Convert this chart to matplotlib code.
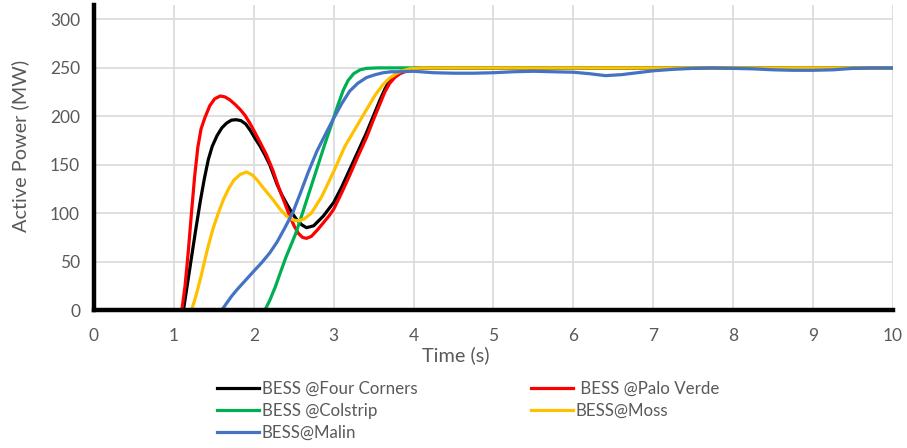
import matplotlib
matplotlib.use("Agg")
import matplotlib.pyplot as plt

plt.rcParams["font.family"] = ["Lato", "DejaVu Sans"]

# Active power of each BESS after the event (time in s, power in MW)
t_four_corners = [0, 1.12, 1.17, 1.22, 1.27, 1.33, 1.38, 1.43, 1.48, 1.54, 1.60, 1.66, 1.72, 1.78,
                  1.84, 1.90, 1.96, 2.01, 2.08, 2.14, 2.20, 2.29, 2.35, 2.41, 2.48, 2.54, 2.60,
                  2.66, 2.75, 2.87, 3.0, 3.1, 3.2, 3.3, 3.41, 3.5, 3.58, 3.64, 3.7,
                  3.77, 3.83, 3.9, 4.0, 4.15, 10]
p_four_corners = [0, 0, 27, 54, 81, 112, 135, 155, 169, 180, 188, 193, 196, 196.5,
                  195.5, 192, 185, 178, 169, 160, 150, 130, 119, 110, 100, 93, 88,
                  85, 87, 97, 111, 127, 145, 163, 183, 201, 217, 228, 237,
                  243, 246, 248, 249.5, 250, 250]

t_palo_verde = [0, 1.10, 1.14, 1.18, 1.22, 1.26, 1.30, 1.34, 1.39, 1.45, 1.51, 1.58, 1.64, 1.70,
                1.77, 1.83, 1.89, 1.95, 2.01, 2.08, 2.16, 2.24, 2.31, 2.38, 2.45, 2.51, 2.56,
                2.61, 2.66, 2.72, 2.80, 2.87, 2.94, 3.0, 3.1, 3.2, 3.3, 3.41, 3.5, 3.58, 3.64,
                3.7, 3.77, 3.83, 3.92, 4.0, 4.15, 10]
p_palo_verde = [0, 0, 25, 60, 100, 138, 168, 187, 199, 211, 218, 221, 220, 217,
                212, 207, 201, 193, 184, 173, 160, 144, 127, 112, 97, 86, 79,
                75, 74, 76, 83, 90, 97, 104, 121, 139, 158, 178, 197, 213, 225,
                234, 240.5, 244, 247, 249, 250, 250]

t_colstrip = [0, 2.14, 2.20, 2.27, 2.33, 2.40, 2.47, 2.52, 2.57, 2.68, 2.79, 2.88, 2.97, 3.05,
              3.12, 3.18, 3.25, 3.33, 3.41, 3.55, 10]
p_colstrip = [0, 0, 10, 24, 38, 54, 68, 78, 90, 118, 146, 169, 191, 211,
              227, 237, 244, 248, 249.5, 250, 250]

t_moss = [0, 1.22, 1.26, 1.30, 1.34, 1.38, 1.43, 1.49, 1.56, 1.62, 1.69, 1.75, 1.83, 1.91, 1.98,
          2.04, 2.12, 2.24, 2.33, 2.41, 2.49, 2.56, 2.63, 2.72, 2.85, 3.0, 3.14, 3.29, 3.39,
          3.52, 3.62, 3.70, 3.78, 3.86, 3.95, 4.1, 10]
p_moss = [0, 0, 10, 22, 35, 49, 66, 84, 101, 114, 126, 134, 140, 142.5, 139.5,
          134.5, 126, 114, 104, 97, 93, 92, 94, 100, 117, 143, 169, 190, 204,
          222, 233, 239.5, 244, 247, 249, 250, 250]

t_malin = [0, 1.60, 1.66, 1.72, 1.79, 1.90, 2.01, 2.10, 2.20, 2.29, 2.39, 2.49, 2.58,
           2.68, 2.79, 2.90, 3.0, 3.1, 3.2, 3.3, 3.41, 3.52, 3.62, 3.72, 3.83, 4.0, 4.25,
           4.5, 4.75, 5.0, 5.25, 5.5, 5.75, 6.0, 6.2, 6.4, 6.6, 6.8, 7.0, 7.25, 7.5, 7.75,
           8.0, 8.25, 8.5, 8.75, 9.0, 9.25, 9.5, 9.75, 10]
p_malin = [0, 0, 7, 14, 21, 31, 41, 49, 59, 70, 85, 101, 120,
           142, 164, 182, 198, 213, 226, 234, 240, 243, 245, 246, 246, 246.5, 245,
           244.5, 244.5, 245, 246, 246.5, 246, 245.5, 244, 242, 243, 245, 247, 248.5, 249.5, 250,
           249.5, 249, 248, 247.5, 247.5, 248, 249.5, 250, 250]

x_ticks = list(range(0, 11))
y_ticks = [0, 50, 100, 150, 200, 250, 300]

text_gray = "#595959"
grid_gray = "#d9d9d9"

fig = plt.figure(figsize=(9.07, 4.48), dpi=100)
ax = fig.add_axes([0.1036, 0.308, 0.881, 0.681])

lw = 2.3
h_fc, = ax.plot(t_four_corners, p_four_corners, color="black", lw=lw, label="BESS @Four Corners")
h_pv, = ax.plot(t_palo_verde, p_palo_verde, color="#ff0000", lw=lw, label=" BESS @Palo Verde")
h_cs, = ax.plot(t_colstrip, p_colstrip, color="#00b050", lw=lw, label="BESS @Colstrip")
h_ms, = ax.plot(t_moss, p_moss, color="#ffc000", lw=lw, label="BESS@Moss")
h_ml, = ax.plot(t_malin, p_malin, color="#4472c4", lw=lw, label="BESS@Malin")

ax.set_xlim(0, 10)
ax.set_ylim(0, 315)
ax.set_xticks(x_ticks)
ax.set_yticks(y_ticks)
ax.grid(True, color=grid_gray, lw=1.2)
ax.set_axisbelow(True)

for side in ["top", "right"]:
    ax.spines[side].set_visible(False)
for side in ["left", "bottom"]:
    ax.spines[side].set_color("black")
    ax.spines[side].set_linewidth(3.2)

ax.tick_params(axis="both", length=0, labelsize=12.5, labelcolor=text_gray)
ax.tick_params(axis="x", pad=13)
ax.tick_params(axis="y", pad=10)

fig.text(456 / 907, 1 - 355 / 448, "Time (s)", ha="center", va="center",
         fontsize=14.3, color=text_gray)
fig.text(20 / 907, 1 - 146 / 448, "Active Power (MW)", ha="center", va="center",
         rotation=90, fontsize=14.3, color=text_gray)

# legend laid out in two columns: left column gets the first three handles
leg = fig.legend([h_fc, h_cs, h_ml, h_pv, h_ms],
                 [h.get_label() for h in [h_fc, h_cs, h_ml, h_pv, h_ms]],
                 ncol=2, loc="upper left", bbox_to_anchor=(217 / 907, 1 - 381 / 448),
                 frameon=False, fontsize=12.2, handlelength=2.5, handletextpad=0.15,
                 columnspacing=6.7, labelspacing=0.36, borderpad=0, borderaxespad=0)
for txt in leg.get_texts():
    txt.set_color(text_gray)

fig.savefig("out.png", dpi=100)
